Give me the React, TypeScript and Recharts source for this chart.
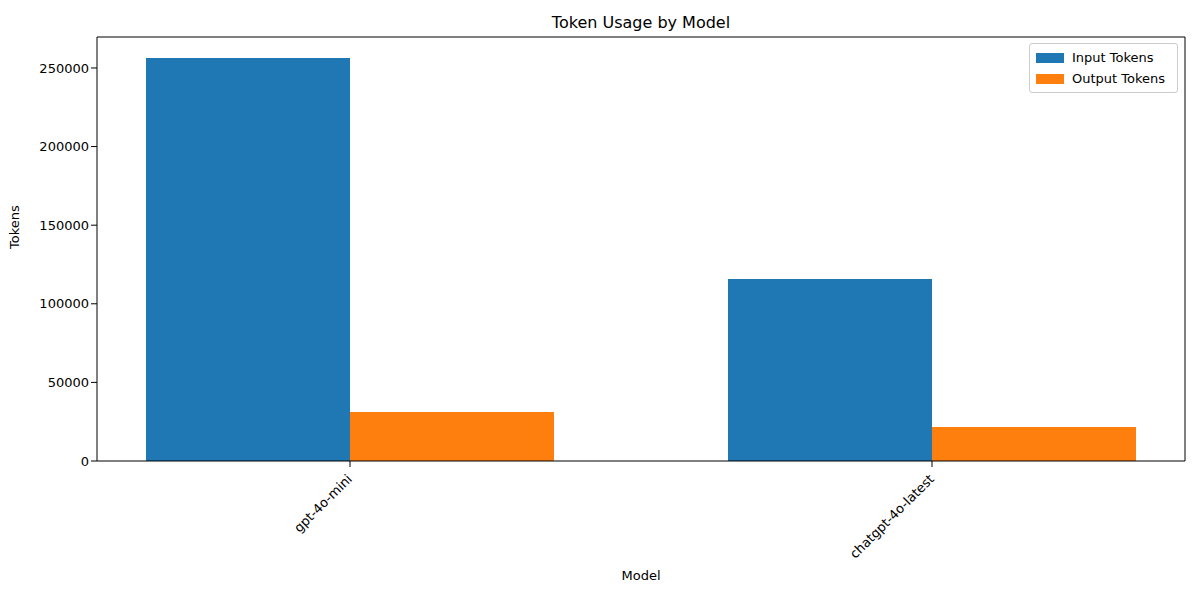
import { Bar, BarChart, XAxis, YAxis, Label } from 'recharts';

const models = ['gpt-4o-mini', 'chatgpt-4o-latest'];
const inputTokens = [256300, 115800];
const outputTokens = [31200, 21600];
const yTicks = [0, 50000, 100000, 150000, 200000, 250000];

const data = models.map((model, i) => ({
  model,
  input: inputTokens[i],
  output: outputTokens[i]
}));

const font = 'DejaVu Sans, sans-serif';

function RotatedTick(props: any) {
  const { x, y, payload } = props;
  return (
    <g transform={`translate(${x},${y + 8})`}>
      <text transform="rotate(-45)" textAnchor="end" dy={4} fontSize={13} fill="#000" fontFamily={font}>
        {payload.value}
      </text>
    </g>
  );
}

const legendItems = [
  { label: 'Input Tokens', color: '#1f77b4' },
  { label: 'Output Tokens', color: '#ff7f0e' }
];

export default function App() {
  return (
    <div style={{ position: 'absolute', left: 0, top: 0, width: 1200, height: 600, background: '#fff' }}>
      <BarChart
        width={1200}
        height={600}
        data={data}
        margin={{ top: 37, right: 15, bottom: 0, left: 0 }}
        barCategoryGap={87}
        barGap={0}
      >
        <text x={641} y={28} textAnchor="middle" fontSize={16} fontFamily={font} fill="#000">
          Token Usage by Model
        </text>
        <XAxis
          dataKey="model"
          padding={{ left: -38, right: -38 }}
          tick={<RotatedTick />}
          tickLine={{ stroke: '#000' }}
          axisLine={{ stroke: '#000' }}
          interval={0}
          height={139}
        >
          <Label value="Model" position="insideTop" offset={110} fontSize={13} fill="#000" fontFamily={font} />
        </XAxis>
        <YAxis
          domain={[0, 269700]}
          ticks={yTicks}
          allowDataOverflow
          tick={{ fontSize: 13, fill: '#000', fontFamily: font }}
          tickLine={{ stroke: '#000' }}
          axisLine={{ stroke: '#000' }}
          width={97}
        >
          <Label value="Tokens" angle={-90} position="insideLeft" offset={14} fontSize={13} fill="#000" fontFamily={font} />
        </YAxis>
        <Bar dataKey="input" name="Input Tokens" fill="#1f77b4" isAnimationActive={false} />
        <Bar dataKey="output" name="Output Tokens" fill="#ff7f0e" isAnimationActive={false} />
        <line x1={97} y1={37} x2={1185} y2={37} stroke="#000" />
        <line x1={1185} y1={37} x2={1185} y2={461} stroke="#000" />
      </BarChart>
      <div
        style={{
          position: 'absolute',
          left: 1029,
          top: 43,
          border: '1px solid #ccc',
          borderRadius: 3,
          background: '#fff',
          padding: '3px 6px',
          fontFamily: font,
          fontSize: 13,
          width: 135
        }}
      >
        {legendItems.map((it) => (
          <div key={it.label} style={{ display: 'flex', alignItems: 'center', height: 21 }}>
            <span style={{ width: 28, height: 10, background: it.color, marginRight: 8 }} />
            {it.label}
          </div>
        ))}
      </div>
    </div>
  );
}
